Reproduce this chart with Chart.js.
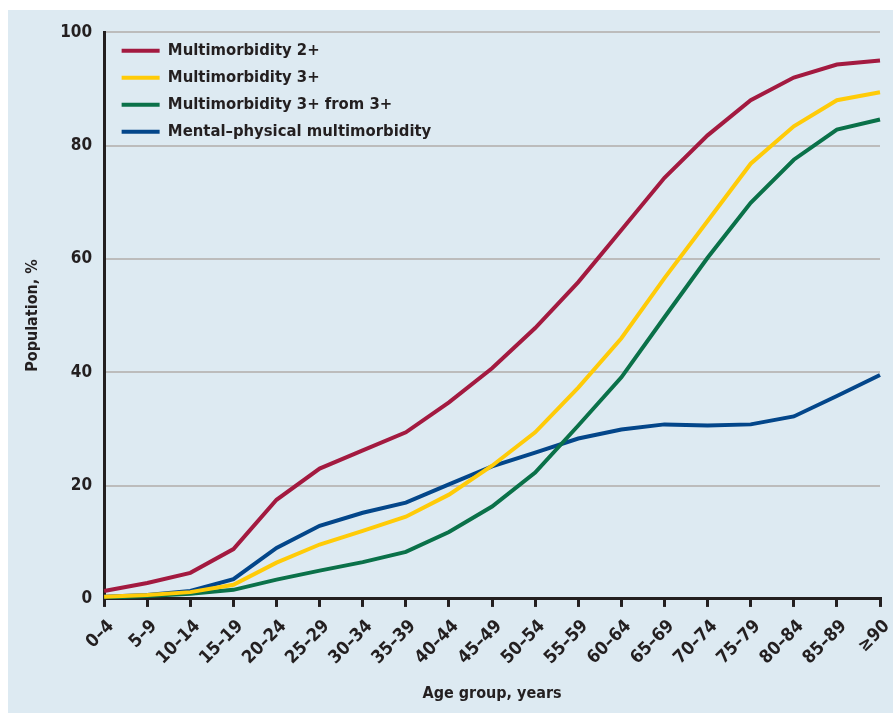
<!DOCTYPE html>
<html>
<head>
<meta charset="utf-8">
<script src="https://cdn.jsdelivr.net/npm/chart.js@4.4.1/dist/chart.umd.min.js"></script>
<style>
  html, body { margin: 0; padding: 0; background: #ffffff; }
  #wrap { position: absolute; left: 8px; top: 10px; width: 885px; height: 703px; background: #ddeaf2; }
</style>
</head>
<body>
<div id="wrap"><canvas id="myChart"></canvas></div>
<script>
var ageGroups = ["0\u20134", "5\u20139", "10\u201314", "15\u201319", "20\u201324", "25\u201329", "30\u201334", "35\u201339", "40\u201344",
    "45\u201349", "50\u201354", "55\u201359", "60\u201364", "65\u201369", "70\u201374", "75\u201379", "80\u201384", "85\u201389", "\u226590"];

var multi2 = [1.4, 2.8, 4.6, 8.8, 17.5, 23.0, 26.2, 29.4, 34.7, 40.7, 47.8, 55.9, 65.1, 74.3, 81.8, 88.0, 92.0, 94.3, 95.0];
var multi3 = [0.4, 0.7, 1.2, 2.5, 6.4, 9.6, 12.0, 14.5, 18.4, 23.5, 29.4, 37.3, 46.0, 56.6, 66.7, 76.8, 83.4, 88.0, 89.4];
var multi3from3 = [0.2, 0.5, 0.9, 1.6, 3.4, 5.0, 6.5, 8.3, 11.8, 16.3, 22.3, 30.6, 39.1, 49.7, 60.2, 69.9, 77.5, 82.8, 84.6];
var mentalPhysical = [0.4, 0.7, 1.4, 3.5, 9.0, 12.9, 15.2, 17.0, 20.2, 23.4, 25.8, 28.3, 29.9, 30.8, 30.6, 30.8, 32.2, 35.8, 39.5];

var yTicks = [0, 20, 40, 60, 80, 100];

var textColor = '#231f20';
var fontFamily = '"DejaVu Sans Condensed", "DejaVu Sans", sans-serif';

function makeSet(label, data, color) {
    return {
        label: label,
        data: data,
        borderColor: color,
        backgroundColor: color,
        borderWidth: 4,
        pointRadius: 0,
        pointHoverRadius: 0,
        tension: 0,
        fill: false
    };
}

// nudge the in-plot legend a little further from the y axis
var legendNudge = {
    id: 'legendNudge',
    afterLayout: function(chart) {
        if (chart.legend) {
            chart.legend.left += 7;
        }
    }
};

var ctx = document.getElementById('myChart').getContext('2d');
var chart = new Chart(ctx, {
    type: 'line',
    data: {
        labels: ageGroups,
        datasets: [
            makeSet('Multimorbidity 2+', multi2, '#a31a40'),
            makeSet('Multimorbidity 3+', multi3, '#ffcb08'),
            makeSet('Multimorbidity 3+ from 3+', multi3from3, '#0a7149'),
            makeSet('Mental\u2013physical multimorbidity', mentalPhysical, '#03468a')
        ]
    },
    plugins: [legendNudge],
    options: {
        responsive: true,
        maintainAspectRatio: false,
        animation: false,
        layout: {
            padding: { top: 18, right: 13, bottom: 10, left: 15 }
        },
        scales: {
            x: {
                offset: false,
                afterFit: function(scale) {
                    // rotated labels sit left of their ticks, no room needed on the right
                    scale.paddingRight = 0;
                },
                border: { color: textColor, width: 3 },
                grid: {
                    drawOnChartArea: false,
                    drawTicks: true,
                    tickLength: 8,
                    color: textColor,
                    lineWidth: 3
                },
                ticks: {
                    autoSkip: false,
                    minRotation: 45,
                    maxRotation: 45,
                    padding: 9,
                    labelOffset: 7,
                    color: textColor,
                    font: { family: fontFamily, size: 18, weight: 'bold' }
                },
                title: {
                    display: true,
                    text: 'Age group, years',
                    color: textColor,
                    padding: { top: 6, bottom: 0 },
                    font: { family: fontFamily, size: 16, weight: 'bold' }
                }
            },
            y: {
                min: 0,
                max: 100,
                afterBuildTicks: function(scale) {
                    scale.ticks = yTicks.map(function(v) { return { value: v }; });
                },
                border: { color: textColor, width: 3 },
                grid: {
                    drawTicks: false,
                    color: '#bcbcbc',
                    lineWidth: 2
                },
                ticks: {
                    padding: 12,
                    color: textColor,
                    font: { family: fontFamily, size: 17, weight: 'bold' }
                },
                title: {
                    display: true,
                    text: 'Population, %',
                    color: textColor,
                    padding: { top: 0, bottom: 6 },
                    font: { family: fontFamily, size: 16, weight: 'bold' }
                }
            }
        },
        plugins: {
            legend: {
                position: 'chartArea',
                align: 'start',
                title: {
                    display: true,
                    text: ' ',
                    padding: { top: 10, bottom: 0 },
                    font: { size: 10 }
                },
                labels: {
                    usePointStyle: true,
                    pointStyle: 'line',
                    pointStyleWidth: 38,
                    padding: 10.5,
                    color: textColor,
                    font: { family: fontFamily, size: 16.5, weight: 'bold' }
                }
            },
            tooltip: { enabled: false },
            title: { display: false }
        }
    }
});
</script>
</body>
</html>
